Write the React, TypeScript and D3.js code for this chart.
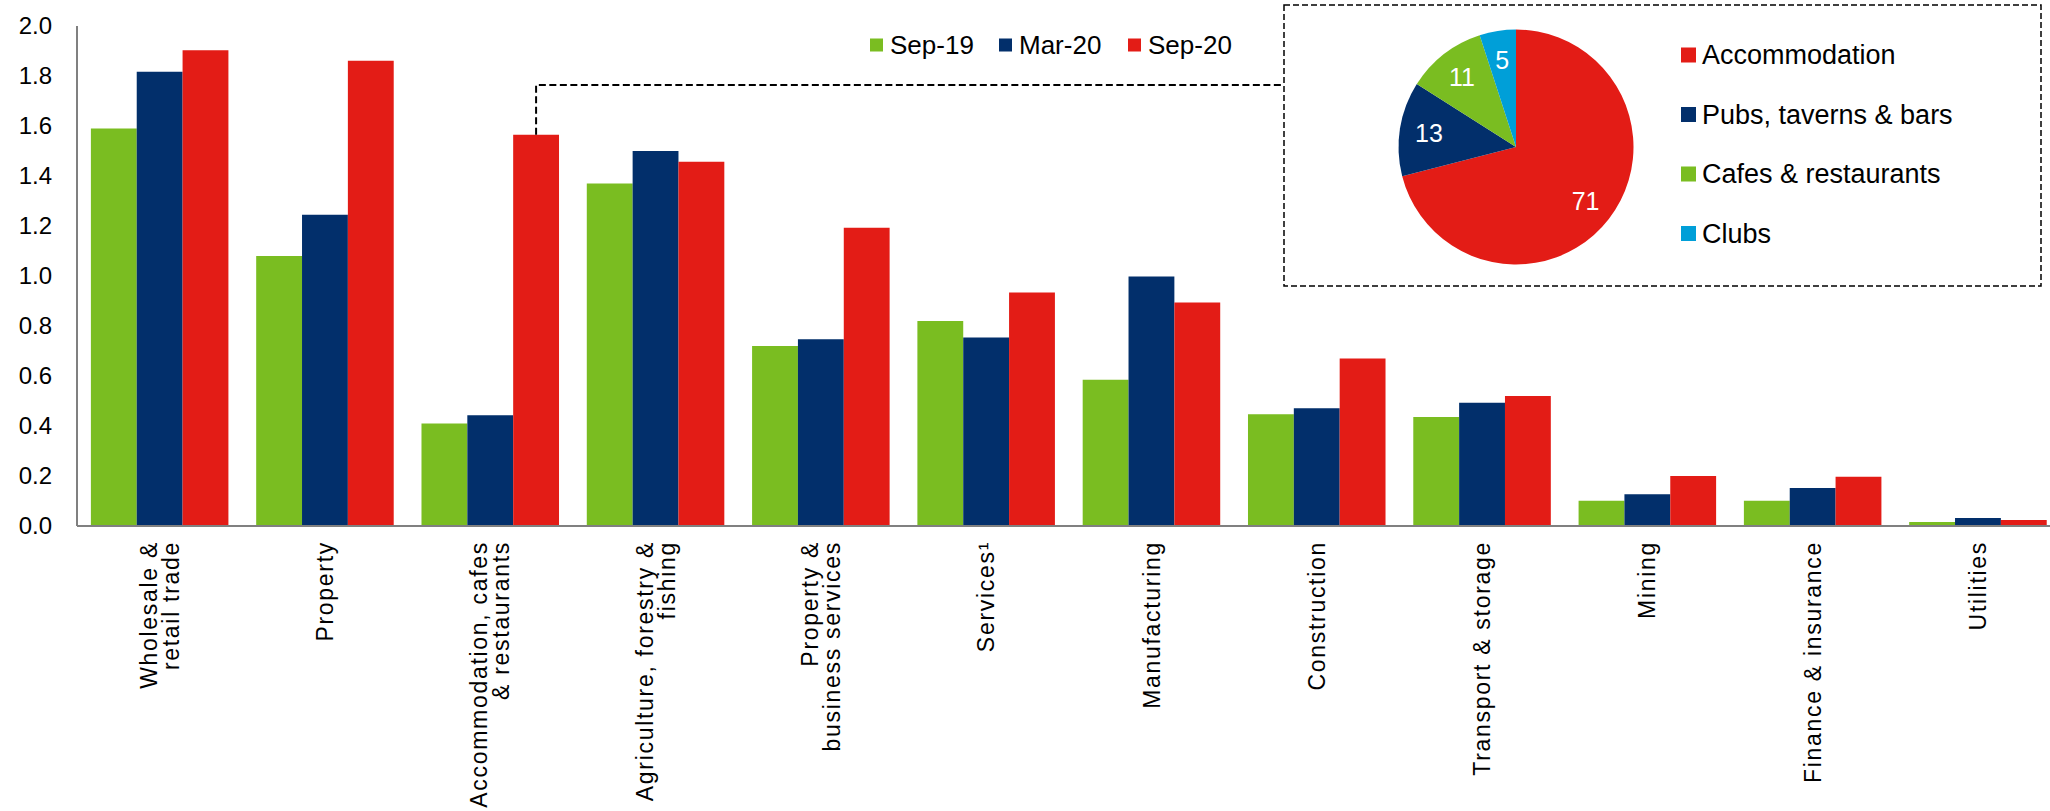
import React from "react"
import * as d3 from "d3"

const categories = [
  ["Wholesale &", "retail trade"],
  ["Property"],
  ["Accommodation, cafes", "& restaurants"],
  ["Agriculture, forestry &", "fishing"],
  ["Property &", "business services"],
  ["Services¹"],
  ["Manufacturing"],
  ["Construction"],
  ["Transport & storage"],
  ["Mining"],
  ["Finance & insurance"],
  ["Utilities"],
]

const seriesNames = ["Sep-19", "Mar-20", "Sep-20"]
const sep19 = [1.59, 1.08, 0.41, 1.37, 0.72, 0.82, 0.585, 0.447, 0.436, 0.101, 0.101, 0.016]
const mar20 = [1.817, 1.245, 0.443, 1.5, 0.747, 0.754, 0.998, 0.471, 0.493, 0.127, 0.152, 0.032]
const sep20 = [1.903, 1.861, 1.565, 1.457, 1.193, 0.934, 0.894, 0.67, 0.52, 0.2, 0.197, 0.024]
const seriesColors = ["#7abd21", "#022f6b", "#e31c16"]

const yTicks = [0, 0.2, 0.4, 0.6, 0.8, 1.0, 1.2, 1.4, 1.6, 1.8, 2.0]

const pieLabels = ["Accommodation", "Pubs, taverns & bars", "Cafes & restaurants", "Clubs"]
const pieValues = [71, 13, 11, 5]
const pieColors = ["#e31c16", "#022f6b", "#7abd21", "#009fd8"]

const W = 2050
const H = 811
const FONT = "'Liberation Sans', Arial, sans-serif"

export default function App() {
  const x = d3
    .scaleBand<number>()
    .domain(d3.range(categories.length))
    .range([77, 77 + 12 * 165.3])
    .paddingInner(0.168)
    .paddingOuter(0.084)
  const xs = d3.scaleBand<number>().domain([0, 1, 2]).range([0, x.bandwidth()])
  const y = d3.scaleLinear().domain([0, 2]).range([526, 26])
  const series = [sep19, mar20, sep20]

  const pie = d3.pie<number>().sort(null).value((d) => d)
  const arcs = pie(pieValues)
  const r = 117.5
  const arc = d3.arc<d3.PieArcDatum<number>>().innerRadius(0).outerRadius(r)
  const labelArc = d3.arc<d3.PieArcDatum<number>>().innerRadius(r * 0.75).outerRadius(r * 0.75)
  const pcx = 1516
  const pcy = 147

  const accomIdx = 2
  const linkX = (x(accomIdx) ?? 0) + (xs(2) ?? 0) + xs.bandwidth() / 2

  return (
    <svg
      width={W}
      height={H}
      style={{ position: "absolute", left: 0, top: 0, background: "#fff" }}
      fontFamily={FONT}
    >
      {/* bars */}
      {series.map((vals, s) =>
        vals.map((v, i) => (
          <rect
            key={`${s}-${i}`}
            x={(x(i) ?? 0) + (xs(s) ?? 0)}
            y={y(v)}
            width={xs.bandwidth()}
            height={y(0) - y(v)}
            fill={seriesColors[s]}
          />
        ))
      )}

      {/* axes */}
      <line x1={77} x2={77} y1={y(2)} y2={y(0)} stroke="#808080" strokeWidth={2} />
      <line x1={77} x2={W} y1={y(0)} y2={y(0)} stroke="#808080" strokeWidth={2} />
      {yTicks.map((t) => (
        <text key={t} x={52} y={y(t)} dy="0.35em" textAnchor="end" fontSize={24} fill="#000">
          {d3.format(".1f")(t)}
        </text>
      ))}

      {/* category labels */}
      {categories.map((lines, i) => {
        const cx = (x(i) ?? 0) + x.bandwidth() / 2
        const lh = 22
        return lines.map((ln, j) => {
          const off = (j - (lines.length - 1) / 2) * lh
          return (
            <text
              key={`${i}-${j}`}
              transform={`translate(${cx + off},541) rotate(-90)`}
              textAnchor="end"
              dy="0.35em"
              fontSize={23}
              letterSpacing={1.7}
              fill="#000"
            >
              {ln}
            </text>
          )
        })
      })}

      {/* series legend */}
      {seriesNames.map((nm, i) => (
        <g key={nm} transform={`translate(${870 + i * 129},45)`}>
          <rect x={0} y={-6.5} width={13} height={13} fill={seriesColors[i]} />
          <text x={20} dy="0.35em" fontSize={26} fill="#000">
            {nm}
          </text>
        </g>
      ))}

      {/* connector */}
      <polyline
        points={`${linkX},${y(sep20[accomIdx])} ${linkX},85 1284,85`}
        fill="none"
        stroke="#000"
        strokeWidth={2}
        strokeDasharray="7 3.5"
      />

      {/* inset box */}
      <rect
        x={1284}
        y={5}
        width={757}
        height={281}
        fill="#fff"
        stroke="#000"
        strokeWidth={1.5}
        strokeDasharray="6 3"
      />

      <g transform={`translate(${pcx},${pcy})`}>
        {arcs.map((a, i) => (
          <path key={i} d={arc(a) ?? ""} fill={pieColors[i]} />
        ))}
        {arcs.map((a, i) => {
          const [lx, ly] = labelArc.centroid(a)
          return (
            <text key={i} x={lx} y={ly} dy="0.35em" textAnchor="middle" fontSize={25} fill="#fff">
              {pieValues[i]}
            </text>
          )
        })}
      </g>

      {pieLabels.map((nm, i) => (
        <g key={nm} transform={`translate(1681,${55 + i * 59.5})`}>
          <rect x={0} y={-7.5} width={15} height={15} fill={pieColors[i]} />
          <text x={21} dy="0.35em" fontSize={27} fill="#000">
            {nm}
          </text>
        </g>
      ))}
    </svg>
  )
}
